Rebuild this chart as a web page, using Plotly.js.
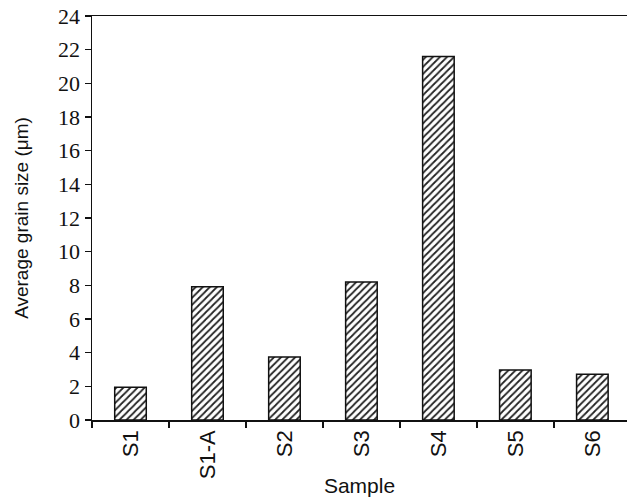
<!DOCTYPE html>
<html>
<head>
<meta charset="utf-8">
<script src="https://cdn.plot.ly/plotly-3.0.1.min.js"></script>
<style>html,body{margin:0;padding:0;background:#fff;}#chart{width:627px;height:500px;}</style>
</head>
<body>
<div id="chart"></div>
<script>
const samples = ["S1", "S1-A", "S2", "S3", "S4", "S5", "S6"];
const grainSize = [1.95, 7.92, 3.74, 8.2, 21.6, 2.97, 2.72];
const yTicks = [0, 2, 4, 6, 8, 10, 12, 14, 16, 18, 20, 22, 24];

const trace = {
  type: "bar",
  x: samples,
  y: grainSize,
  width: 0.41,
  marker: {
    color: "#ffffff",
    line: {color: "#111111", width: 1.5},
    pattern: {shape: "/", fgcolor: "#222222", bgcolor: "#ffffff", size: 5, solidity: 0.35}
  },
  hoverinfo: "skip"
};

const sans = "Liberation Sans";
const serif = "Liberation Serif";

const layout = {
  width: 627, height: 500,
  margin: {l: 92, r: 0, t: 16, b: 80},
  paper_bgcolor: "#ffffff", plot_bgcolor: "#ffffff",
  showlegend: false,
  xaxis: {
    type: "category",
    range: [-0.5, 6.45],
    tickson: "boundaries",
    ticks: "outside", ticklen: 6, tickwidth: 1.5, tickcolor: "#111",
    showline: true, linecolor: "#111", linewidth: 1.5, mirror: true,
    showgrid: false, zeroline: false,
    tickangle: -90,
    tickfont: {family: sans, size: 22, color: "#111"},
    title: {text: "Sample", font: {family: sans, size: 21, color: "#111"}, standoff: 0}
  },
  yaxis: {
    range: [0, 24],
    tickvals: yTicks,
    ticktext: yTicks.map(String),
    ticks: "outside", ticklen: 6, tickwidth: 1.5, tickcolor: "#111",
    showline: true, linecolor: "#111", linewidth: 1.5,
    showgrid: false, zeroline: false,
    tickfont: {family: serif, size: 22, color: "#111"},
    title: {text: "Average grain size (μm)", font: {family: sans, size: 19, color: "#111"}, standoff: 24}
  }
};

Plotly.newPlot("chart", [trace], layout, {displayModeBar: false, staticPlot: true});
</script>
</body>
</html>
